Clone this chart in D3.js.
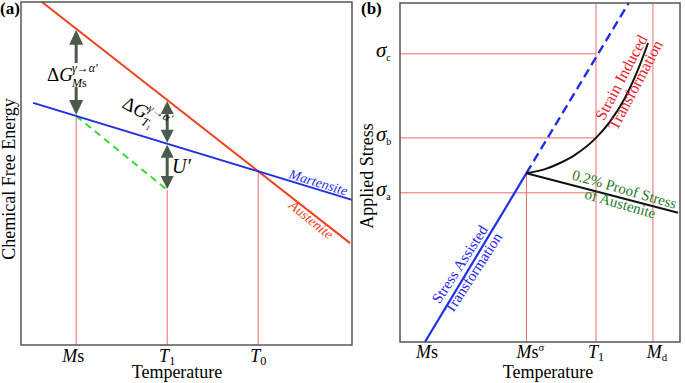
<!DOCTYPE html>
<html>
<head>
<meta charset="utf-8">
<script src="https://cdn.jsdelivr.net/npm/d3@7"></script>
<style>
    body { margin: 0; background: #fff; }
    svg { display: block; font-family: "Liberation Serif", "Times New Roman", serif; }
</style>
</head>
<body>
<div id="chart"></div>
<script>
// ---- panel (a) data : temperature on a 0-12 scale, energy on 0-100
const aTickNames = ['Ms', 'T1', 'T0'];
const aTickTemps = [2.0, 5.3, 8.6];
const austeniteA = [[0.76, 100], [11.93, 29.7]];
const martensiteA = [[0.44, 70.6], [12, 42.3]];
const uPrimeEnd = [5.3, 45.2];

// ---- panel (b) data : temperature on a 0-12 scale, stress on 0-100
const bTickNames = ['Ms', 'Msσ', 'T1', 'Md'];
const bTickTemps = [1.16, 5.42, 8.4, 10.84];
const stressNames = ['a', 'b', 'c'];
const stressLevels = [44, 60.2, 85];
const assistedSolid = [[1.07, 0], [5.42, 49.8]];
const assistedDashed = [[5.42, 49.8], [9.8, 100]];
const strainInduced = [[5.42, 49.8], [6.22, 51.0], [6.86, 52.8], [7.50, 55.2], [8.40, 60.2],
    [9.00, 65.0], [9.64, 72.0], [10.29, 81.9], [10.63, 88.2]];
const proofStress = [[5.42, 49.8], [11.92, 38.1]];

const RED_GRID = '#e86a6a';
const ARROW = '#4b5a4b';

var svg = d3.select('#chart').append('svg')
    .attr('width', 685)
    .attr('height', 383);

// value of a straight two-point line at x
function lineAt(pts, x) {
    const [p0, p1] = pts;
    return p0[1] + (p1[1] - p0[1]) * (x - p0[0]) / (p1[0] - p0[0]);
}

// writes M s / T 1 style tick labels
function writeLabel(t, name, size) {
    const it = (s) => t.append('tspan').style('font-style', 'italic').text(s);
    if (name === 'Ms') { it('M'); t.append('tspan').text('s'); }
    if (name === 'Msσ') {
        it('M'); t.append('tspan').text('s');
        t.append('tspan').attr('dy', -7).style('font-size', (size * 0.6) + 'px').text('σ');
    }
    if (name === 'T1' || name === 'T0') {
        it('T');
        t.append('tspan').attr('dy', 3).style('font-size', (size * 0.68) + 'px').text(name[1]);
    }
    if (name === 'Md') {
        it('M');
        t.append('tspan').attr('dy', 3).style('font-size', (size * 0.6) + 'px').text('d');
    }
}

function frame(x0, x1, y0, y1) {
    svg.append('path')
        .attr('d', `M${x0},${y0}V${y1}H${x1}V${y0}Z`)
        .attr('fill', 'none')
        .attr('stroke', '#555')
        .attr('stroke-width', 1.5);
}

// arrow pieces along a vertical
function arrowHead(g, x, tipY, dir, w, l) {
    g.append('path')
        .attr('d', `M${x},${tipY}L${x - w / 2},${tipY + dir * l}L${x + w / 2},${tipY + dir * l}Z`)
        .attr('fill', ARROW);
}
function shaft(g, x, y0, y1) {
    g.append('line')
        .attr('x1', x).attr('x2', x)
        .attr('y1', y0).attr('y2', y1)
        .attr('stroke', ARROW)
        .attr('stroke-width', 3);
}

// ================= PANEL (a)
var xa = d3.scaleLinear().domain([0, 12]).range([21, 352]);
var ya = d3.scaleLinear().domain([0, 100]).range([345, 2]);
var ga = svg.append('g');

// vertical guide lines up to where they meet the curves
const aTops = [lineAt(martensiteA, aTickTemps[0]), uPrimeEnd[1], lineAt(martensiteA, aTickTemps[2])];
ga.selectAll('.vguide')
    .data(aTickTemps)
    .enter()
    .append('line')
    .attr('x1', d => xa(d)).attr('x2', d => xa(d))
    .attr('y1', ya(0)).attr('y2', (d, i) => ya(aTops[i]))
    .attr('stroke', RED_GRID)
    .attr('stroke-width', 1);

var line = d3.line().x(d => xa(d[0])).y(d => ya(d[1]));

// green dashed line from Ms to U' end
ga.append('path')
    .attr('d', line([[aTickTemps[0], lineAt(martensiteA, aTickTemps[0])], uPrimeEnd]))
    .attr('fill', 'none')
    .attr('stroke', '#33dd33')
    .attr('stroke-width', 2)
    .attr('stroke-dasharray', '7,5');

ga.append('path')
    .attr('d', line(austeniteA))
    .attr('fill', 'none')
    .attr('stroke', '#f0401e')
    .attr('stroke-width', 2);

ga.append('path')
    .attr('d', line(martensiteA))
    .attr('fill', 'none')
    .attr('stroke', '#1f2fe6')
    .attr('stroke-width', 2);

// arrows
{
    const xMs = xa(aTickTemps[0]);
    const topMs = ya(lineAt(austeniteA, aTickTemps[0])) + 1;
    const botMs = ya(lineAt(martensiteA, aTickTemps[0])) - 1;
    arrowHead(ga, xMs, topMs, 1, 14, 15);
    shaft(ga, xMs, topMs + 10, 63);
    arrowHead(ga, xMs, botMs, -1, 14, 15);
    shaft(ga, xMs, 87, botMs - 10);

    const xT1 = xa(aTickTemps[1]);
    const redT1 = ya(lineAt(austeniteA, aTickTemps[1])) + 1;
    const blueT1 = ya(lineAt(martensiteA, aTickTemps[1]));
    const endT1 = ya(uPrimeEnd[1]) - 1;
    arrowHead(ga, xT1, redT1, 1, 13, 13);
    arrowHead(ga, xT1, blueT1 - 1, -1, 13, 13);
    shaft(ga, xT1, redT1 + 8, blueT1 - 9);
    arrowHead(ga, xT1, blueT1 + 1, 1, 13, 13);
    arrowHead(ga, xT1, endT1, -1, 13, 13);
    shaft(ga, xT1, blueT1 + 9, endT1 - 8);
}

// Delta G labels
function deltaG(g, sub) {
    g.append('text').attr('x', 0).attr('y', 0).style('font-size', '19px')
        .html('Δ<tspan font-style="italic">G</tspan>');
    g.append('text').attr('x', 25).attr('y', -9).style('font-size', '12px').style('font-style', 'italic')
        .text('γ→α′');
    const s = g.append('text').attr('x', 25).attr('y', 6).style('font-size', '12px');
    if (sub === 'Ms') {
        s.append('tspan').style('font-style', 'italic').text('M');
        s.append('tspan').text('s');
    } else {
        s.append('tspan').style('font-style', 'italic').text('T');
        s.append('tspan').attr('dy', 2).style('font-size', '7px').text('1');
    }
}
deltaG(ga.append('g').attr('transform', 'translate(47,81)'), 'Ms');
deltaG(ga.append('g').attr('transform', 'translate(121,107) rotate(28)'), 'T1');

ga.append('text')
    .attr('x', 172).attr('y', 173)
    .style('font-size', '20px').style('font-style', 'italic')
    .text('U′');

ga.append('text')
    .attr('transform', 'translate(288,178) rotate(17)')
    .style('font-size', '14px').style('font-style', 'italic')
    .attr('fill', '#1f2fe6')
    .text('Martensite');

ga.append('text')
    .attr('transform', 'translate(288,207) rotate(39)')
    .style('font-size', '14px').style('font-style', 'italic')
    .attr('fill', '#f0401e')
    .text('Austenite');

frame(21, 352, 2, 345);

// tick labels
ga.selectAll('.tick-a')
    .data(aTickNames)
    .enter()
    .append('text')
    .attr('x', (d, i) => xa(aTickTemps[i]) - (i === 0 ? 3 : 0))
    .attr('y', 362)
    .style('font-size', '18px')
    .style('text-anchor', 'middle')
    .each(function (d) { writeLabel(d3.select(this), d, 18); });

ga.append('text')
    .attr('x', 177).attr('y', 378)
    .style('font-size', '18px').style('text-anchor', 'middle')
    .text('Temperature');

ga.append('text')
    .attr('transform', 'translate(15,179) rotate(-90)')
    .style('font-size', '18px').style('text-anchor', 'middle')
    .text('Chemical Free Energy');

svg.append('text')
    .attr('x', 0).attr('y', 14)
    .style('font-size', '17px').style('font-weight', 'bold')
    .text('(a)');

// ================= PANEL (b)
var xb = d3.scaleLinear().domain([0, 12]).range([400, 680]);
var yb = d3.scaleLinear().domain([0, 100]).range([342, 3]);
var gb = svg.append('g');

// horizontal stress guides up to T1
gb.selectAll('.hguide')
    .data(stressLevels)
    .enter()
    .append('line')
    .attr('x1', xb(0)).attr('x2', xb(bTickTemps[2]))
    .attr('y1', d => yb(d)).attr('y2', d => yb(d))
    .attr('stroke', RED_GRID)
    .attr('stroke-width', 1);

// vertical guides: Ms-sigma up to the start point, T1 and Md full height
const bTops = [null, assistedSolid[1][1], 100, 100];
gb.selectAll('.vguide')
    .data(bTickTemps.slice(1))
    .enter()
    .append('line')
    .attr('x1', d => xb(d)).attr('x2', d => xb(d))
    .attr('y1', yb(0)).attr('y2', (d, i) => yb(bTops[i + 1]))
    .attr('stroke', RED_GRID)
    .attr('stroke-width', 1);

var lineB = d3.line().x(d => xb(d[0])).y(d => yb(d[1]));

gb.append('path')
    .attr('d', lineB(assistedSolid))
    .attr('fill', 'none')
    .attr('stroke', '#1f2fe6')
    .attr('stroke-width', 2.2);

gb.append('path')
    .attr('d', lineB(assistedDashed))
    .attr('fill', 'none')
    .attr('stroke', '#1f2fe6')
    .attr('stroke-width', 2.4)
    .attr('stroke-dasharray', '9,5');

gb.append('path')
    .attr('d', d3.line().curve(d3.curveMonotoneX).x(d => xb(d[0])).y(d => yb(d[1]))(strainInduced))
    .attr('fill', 'none')
    .attr('stroke', '#111')
    .attr('stroke-width', 2);

gb.append('path')
    .attr('d', lineB(proofStress))
    .attr('fill', 'none')
    .attr('stroke', '#111')
    .attr('stroke-width', 2);

// rotated two-line annotations
function twoLines(g, lines, cx, cy, angle, color, size, lh) {
    const t = g.append('text')
        .attr('transform', `translate(${cx},${cy}) rotate(${angle})`)
        .style('font-size', size + 'px')
        .style('text-anchor', 'middle')
        .attr('fill', color);
    lines.forEach((s, i) => {
        t.append('tspan').attr('x', 0).attr('y', i * lh).text(s);
    });
}
twoLines(gb, ['Strain Induced', 'Transformation'], 626, 80, -62, '#e8202a', 16, 16);
twoLines(gb, ['0.2% Proof Stress', 'of Austenite'], 623, 194, 16, '#1e7a1e', 15, 15);
twoLines(gb, ['Stress Assisted', 'Transformation'], 464, 267, -57, '#2424ee', 15, 16);

frame(400, 680, 3, 342);

// sigma ticks
gb.selectAll('.tick-s')
    .data(stressNames)
    .enter()
    .append('text')
    .attr('x', 376)
    .attr('y', (d, i) => yb(stressLevels[i]) + 3)
    .style('font-size', '21px')
    .each(function (d) {
        const t = d3.select(this);
        t.append('tspan').style('font-style', 'italic').text('σ');
        t.append('tspan').attr('dy', 4).style('font-size', '10px').text(d);
    });

gb.selectAll('.tick-b')
    .data(bTickNames)
    .enter()
    .append('text')
    .attr('x', (d, i) => xb(bTickTemps[i]) + (i === 1 ? 4 : i === 3 ? 4 : 0))
    .attr('y', 358)
    .style('font-size', '18px')
    .style('text-anchor', 'middle')
    .each(function (d) { writeLabel(d3.select(this), d, 18); });

gb.append('text')
    .attr('x', 548).attr('y', 378)
    .style('font-size', '18px').style('text-anchor', 'middle')
    .text('Temperature');

gb.append('text')
    .attr('transform', 'translate(373,176) rotate(-90)')
    .style('font-size', '18px').style('text-anchor', 'middle')
    .text('Applied Stress');

svg.append('text')
    .attr('x', 361).attr('y', 14)
    .style('font-size', '17px').style('font-weight', 'bold')
    .text('(b)');
</script>
</body>
</html>
